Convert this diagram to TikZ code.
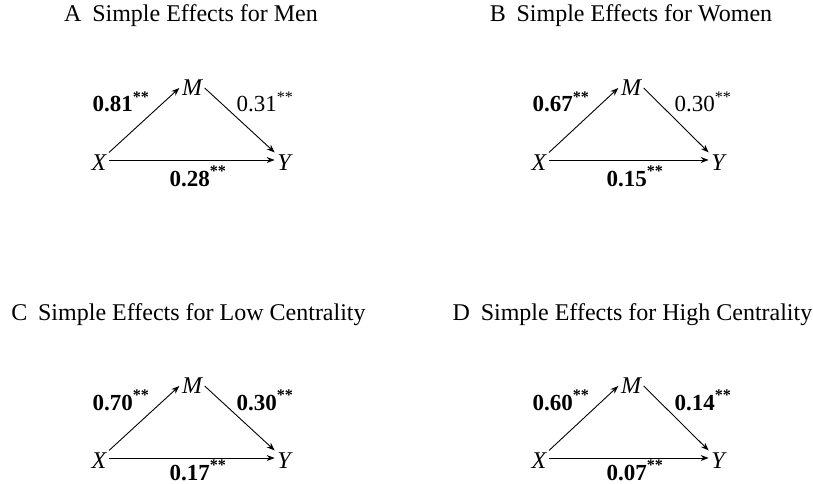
\documentclass[tikz,border=0pt]{standalone}
\usepackage{fontspec}
\setmainfont{Liberation Serif}
\usetikzlibrary{arrows.meta, positioning}

\begin{document}
\begin{tikzpicture}[
    x=1pt, y=-1pt,
    var/.style={font=\fontsize{24}{26}\selectfont\itshape, inner sep=2.5pt},
    coef/.style={font=\fontsize{23}{25}\selectfont, inner sep=0pt, anchor=base},
    ttl/.style={font=\fontsize{24}{26}\selectfont, anchor=base},
    arrow/.style={->, line width=0.9pt, >={Stealth[length=8pt,width=6pt]}}
]
\useasboundingbox (0,0) rectangle (813,484);

% Painel A
\node[ttl] (tA) at (191,22) {A\hspace{0.45em}Simple Effects for Men};
\node[var] (xA) at (99,163) {X};
\node[var] (mA) at (192,88) {M};
\node[var] (yA) at (284,163) {Y};
\draw[arrow] (xA.north east) -- (mA.west);
\draw[arrow] (mA.east) -- (yA.north west);
\draw[arrow] ([yshift=3pt]xA.east) -- ([yshift=3pt]yA.west);
\node[coef] (aA) at (121,112) {\textbf{0.81\textsuperscript{**}}};
\node[coef] (bA) at (265,112) {0.31\textsuperscript{**}};
\node[coef] (cA) at (198,186) {\textbf{0.28\textsuperscript{**}}};

% Painel B
\node[ttl] (tB) at (631,22) {B\hspace{0.45em}Simple Effects for Women};
\node[var] (xB) at (539,163) {X};
\node[var] (mB) at (631,88) {M};
\node[var] (yB) at (718,163) {Y};
\draw[arrow] (xB.north east) -- (mB.west);
\draw[arrow] (mB.east) -- (yB.north west);
\draw[arrow] ([yshift=3pt]xB.east) -- ([yshift=3pt]yB.west);
\node[coef] (aB) at (561,112) {\textbf{0.67\textsuperscript{**}}};
\node[coef] (bB) at (703,112) {0.30\textsuperscript{**}};
\node[coef] (cB) at (635,186) {\textbf{0.15\textsuperscript{**}}};

% Painel C
\node[ttl] (tC) at (188.5,320) {C\hspace{0.45em}Simple Effects for Low Centrality};
\node[var] (xC) at (99,461) {X};
\node[var] (mC) at (192,386) {M};
\node[var] (yC) at (284,461) {Y};
\draw[arrow] (xC.north east) -- (mC.west);
\draw[arrow] (mC.east) -- (yC.north west);
\draw[arrow] ([yshift=3pt]xC.east) -- ([yshift=3pt]yC.west);
\node[coef] (aC) at (121,410) {\textbf{0.70\textsuperscript{**}}};
\node[coef] (bC) at (265,410) {\textbf{0.30\textsuperscript{**}}};
\node[coef] (cC) at (198,480) {\textbf{0.17\textsuperscript{**}}};

% Painel D
\node[ttl] (tD) at (632.5,320) {D\hspace{0.45em}Simple Effects for High Centrality};
\node[var] (xD) at (539,461) {X};
\node[var] (mD) at (631,386) {M};
\node[var] (yD) at (718,461) {Y};
\draw[arrow] (xD.north east) -- (mD.west);
\draw[arrow] (mD.east) -- (yD.north west);
\draw[arrow] ([yshift=3pt]xD.east) -- ([yshift=3pt]yD.west);
\node[coef] (aD) at (561,410) {\textbf{0.60\textsuperscript{**}}};
\node[coef] (bD) at (703,410) {\textbf{0.14\textsuperscript{**}}};
\node[coef] (cD) at (635,480) {\textbf{0.07\textsuperscript{**}}};

\end{tikzpicture}
\end{document}
